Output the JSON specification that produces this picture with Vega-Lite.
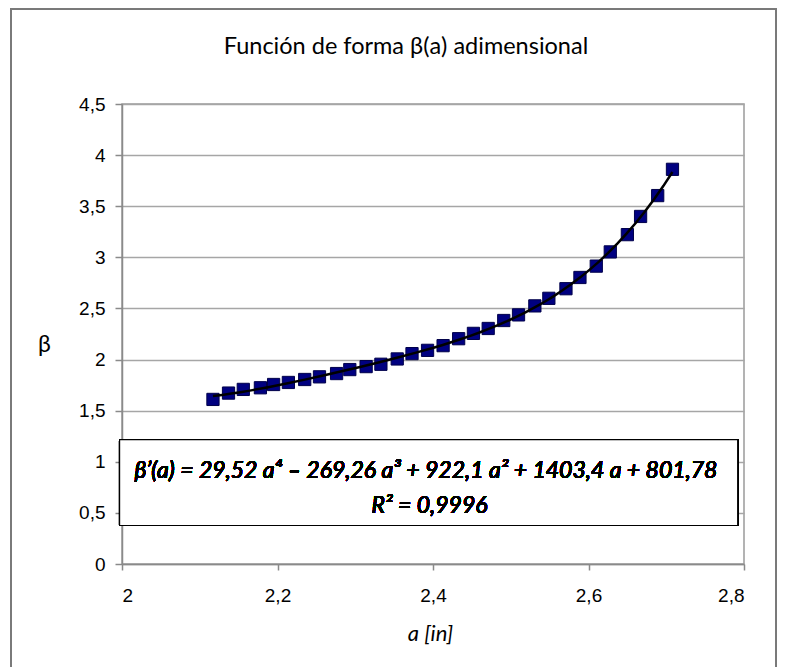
{
  "$schema": "https://vega.github.io/schema/vega-lite/v6.json",
  "autosize": "none",
  "width": 622,
  "height": 460,
  "padding": {"left": 122, "top": 104, "right": 44, "bottom": 103},
  "background": "white",
  "title": {
    "text": "Función de forma β(a) adimensional",
    "font": "Lato",
    "fontSize": 23.5,
    "fontWeight": "normal",
    "color": "black",
    "anchor": "middle",
    "baseline": "middle",
    "offset": -62,
    "dx": -27
  },
  "config": {
    "view": {"stroke": "#9a9a9a", "strokeWidth": 1.5},
    "axis": {
      "labelFont": "Liberation Sans",
      "labelFontSize": 19,
      "labelColor": "black",
      "domainColor": "#8a8a8a",
      "domainWidth": 1.5,
      "tickColor": "#8a8a8a",
      "tickWidth": 1.5,
      "gridColor": "#a6a6a6",
      "gridWidth": 1.5
    }
  },
  "data": {
    "values": [
      {"a": 2.117, "beta": 1.610},
      {"a": 2.137, "beta": 1.672},
      {"a": 2.156, "beta": 1.708},
      {"a": 2.178, "beta": 1.724},
      {"a": 2.195, "beta": 1.756},
      {"a": 2.214, "beta": 1.776},
      {"a": 2.235, "beta": 1.805},
      {"a": 2.254, "beta": 1.831},
      {"a": 2.276, "beta": 1.863},
      {"a": 2.293, "beta": 1.902},
      {"a": 2.314, "beta": 1.931},
      {"a": 2.333, "beta": 1.954},
      {"a": 2.354, "beta": 2.006},
      {"a": 2.373, "beta": 2.058},
      {"a": 2.393, "beta": 2.090},
      {"a": 2.413, "beta": 2.136},
      {"a": 2.433, "beta": 2.204},
      {"a": 2.452, "beta": 2.256},
      {"a": 2.471, "beta": 2.304},
      {"a": 2.491, "beta": 2.382},
      {"a": 2.510, "beta": 2.437},
      {"a": 2.531, "beta": 2.525},
      {"a": 2.549, "beta": 2.599},
      {"a": 2.571, "beta": 2.693},
      {"a": 2.589, "beta": 2.803},
      {"a": 2.610, "beta": 2.914},
      {"a": 2.628, "beta": 3.053},
      {"a": 2.650, "beta": 3.222},
      {"a": 2.667, "beta": 3.400},
      {"a": 2.689, "beta": 3.604},
      {"a": 2.708, "beta": 3.861}
    ]
  },
  "layer": [
    {
      "mark": {"type": "point", "shape": "square", "filled": true, "size": 150, "color": "#000080", "stroke": "#00004a", "strokeWidth": 1, "opacity": 1},
      "encoding": {
        "x": {
          "field": "a", "type": "quantitative",
          "scale": {"domain": [2, 2.8], "nice": false, "zero": false},
          "axis": {
            "values": [2, 2.2, 2.4, 2.6, 2.8],
            "format": ".1~f",
            "labelExpr": "replace(datum.label, '.', ',')",
            "grid": false,
            "tickSize": 6,
            "labelBaseline": "middle",
            "labelPadding": 25,
            "title": "a [in]",
            "titleFont": "Lato",
            "titleFontStyle": "italic",
            "titleFontWeight": "normal",
            "titleFontSize": 22,
            "titleColor": "black",
            "titleX": 308,
            "titleY": 69,
            "titleBaseline": "middle",
            "titleAlign": "center"
          }
        },
        "y": {
          "field": "beta", "type": "quantitative",
          "scale": {"domain": [0, 4.5], "nice": false},
          "axis": {
            "values": [0, 0.5, 1, 1.5, 2, 2.5, 3, 3.5, 4, 4.5],
            "format": ".1~f",
            "labelExpr": "replace(datum.label, '.', ',')",
            "tickSize": 7,
            "labelPadding": 10,
            "title": "β",
            "titleFont": "Lato",
            "titleFontWeight": "normal",
            "titleFontSize": 23,
            "titleColor": "black",
            "titleAngle": 0,
            "titleX": -78,
            "titleY": 240,
            "titleBaseline": "middle",
            "titleAlign": "center"
          }
        }
      }
    },
    {
      "transform": [{"regression": "beta", "on": "a", "method": "poly", "order": 4}],
      "mark": {"type": "line", "color": "black", "strokeWidth": 2.5},
      "encoding": {
        "x": {"field": "a", "type": "quantitative"},
        "y": {"field": "beta", "type": "quantitative"}
      }
    },
    {
      "mark": {"type": "rect", "fill": "white", "stroke": "black", "strokeWidth": 1.2},
      "encoding": {
        "x": {"datum": 1.9969, "type": "quantitative"},
        "x2": {"datum": 2.7919},
        "y": {"datum": 1.217, "type": "quantitative"},
        "y2": {"datum": 0.3766}
      }
    },
    {
      "mark": {"type": "text", "font": "Lato", "fontStyle": "italic", "fontWeight": "normal", "fontSize": 23, "fill": "black", "align": "center", "baseline": "middle"},
      "encoding": {
        "x": {"datum": 2.391, "type": "quantitative"},
        "y": {"datum": 0.905, "type": "quantitative"},
        "text": {"value": "β’(a) = 29,52 a⁴ – 269,26 a³ + 922,1 a² + 1403,4 a + 801,78"}
      }
    },
    {
      "mark": {"type": "text", "font": "Lato", "fontStyle": "italic", "fontWeight": "normal", "fontSize": 23, "fill": "black", "align": "center", "baseline": "middle"},
      "encoding": {
        "x": {"datum": 2.3955, "type": "quantitative"},
        "y": {"datum": 0.567, "type": "quantitative"},
        "text": {"value": "R² = 0,9996"}
      }
    },
    {
      "mark": {"type": "rect", "fill": null, "fillOpacity": 0, "stroke": "#7a7a7a", "strokeWidth": 1.2},
      "encoding": {
        "x": {"datum": 1.8572, "type": "quantitative"},
        "x2": {"datum": 2.8412},
        "y": {"datum": 5.429, "type": "quantitative"},
        "y2": {"datum": -1.1}
      }
    }
  ]
}
